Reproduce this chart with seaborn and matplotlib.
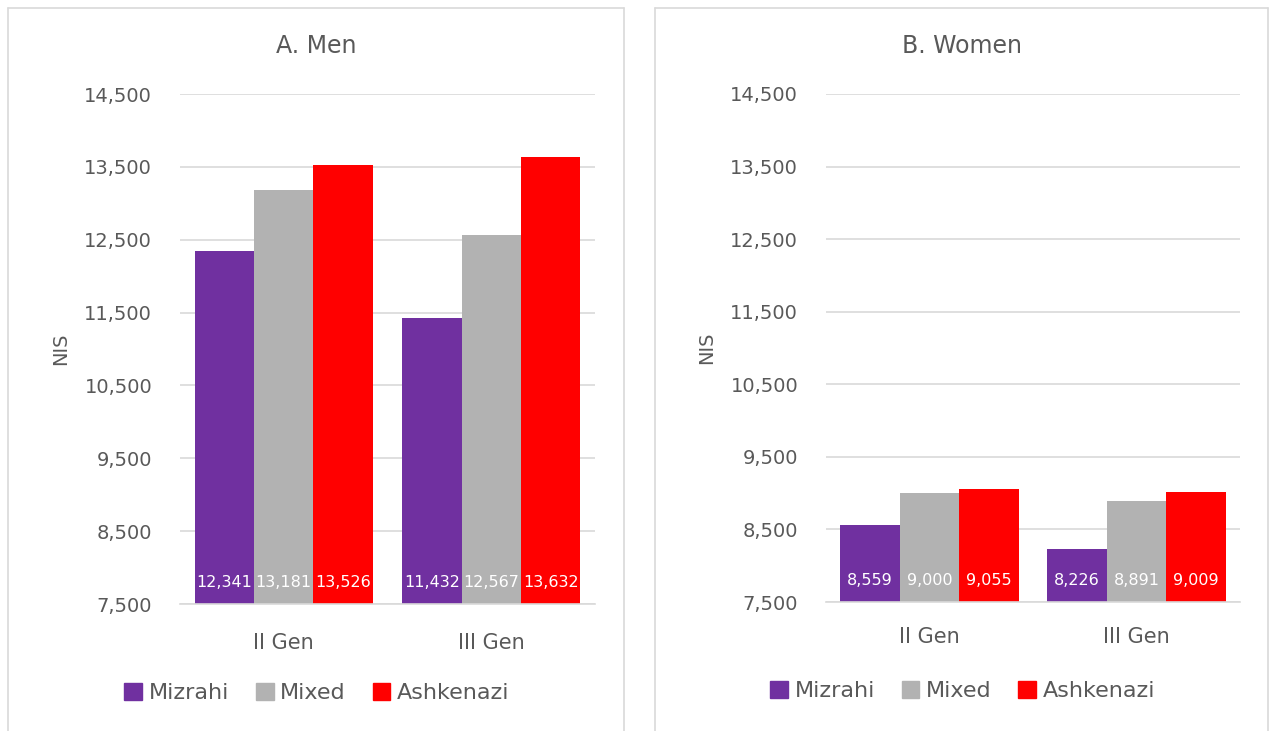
import matplotlib
matplotlib.use("Agg")
import matplotlib.pyplot as plt
import matplotlib.ticker as mticker
from matplotlib.lines import Line2D
import pandas as pd
import seaborn as sns

generations = ["II Gen", "III Gen"]
groups = ["Mizrahi", "Mixed", "Ashkenazi"]
men_mizrahi = [12341, 11432]
men_mixed = [13181, 12567]
men_ashkenazi = [13526, 13632]
women_mizrahi = [8559, 8226]
women_mixed = [9000, 8891]
women_ashkenazi = [9055, 9009]
y_ticks = [7500, 8500, 9500, 10500, 11500, 12500, 13500, 14500]

colors = {"Mizrahi": "#7030A0", "Mixed": "#B2B2B2", "Ashkenazi": "#FF0000"}
text_col = "#595959"
grid_col = "#D9D9D9"


def make_df(miz, mix, ash):
    rows = []
    for name, vals in zip(groups, [miz, mix, ash]):
        for g, v in zip(generations, vals):
            rows.append({"gen": g, "group": name, "value": v})
    return pd.DataFrame(rows)


sns.set_theme(style="white")
plt.rcParams["font.family"] = ["DejaVu Sans"]

fig = plt.figure(figsize=(12.7, 7.31), dpi=100)

# panel frames
for x0, x1 in [(8, 624), (655, 1268)]:
    fx0, fx1 = x0 / 1270, x1 / 1270
    fy = 1 - 8 / 731
    fig.add_artist(Line2D([fx0, fx1], [fy, fy], color=grid_col, lw=1.2, transform=fig.transFigure))
    fig.add_artist(Line2D([fx0, fx0], [0, fy], color=grid_col, lw=1.2, transform=fig.transFigure))
    fig.add_artist(Line2D([fx1, fx1], [0, fy], color=grid_col, lw=1.2, transform=fig.transFigure))

panels = [
    ("A. Men", make_df(men_mizrahi, men_mixed, men_ashkenazi), [180 / 1270, 1 - 604 / 731, 415 / 1270, 510 / 731], 316, 21),
    ("B. Women", make_df(women_mizrahi, women_mixed, women_ashkenazi), [826 / 1270, 1 - 602 / 731, 414 / 1270, 508 / 731], 962, 18),
]

for title, df, pos, tx, xpad in panels:
    ax = fig.add_axes(pos)
    sns.barplot(data=df, x="gen", y="value", hue="group", hue_order=groups,
                palette=colors, width=0.86, gap=0, saturation=1, ax=ax,
                errorbar=None, legend=False, linewidth=0)
    ax.set_ylim(7500, 14500)
    ax.set_yticks(y_ticks)
    ax.yaxis.set_major_formatter(mticker.StrMethodFormatter("{x:,.0f}"))
    ax.yaxis.grid(True, color=grid_col, lw=1.2)
    ax.set_axisbelow(True)
    for s in ["top", "right", "left"]:
        ax.spines[s].set_visible(False)
    ax.spines["bottom"].set_color(grid_col)
    ax.spines["bottom"].set_linewidth(1.2)
    ax.tick_params(axis="y", length=0, pad=20, labelsize=14, labelcolor=text_col)
    ax.tick_params(axis="x", length=0, pad=xpad, labelsize=15, labelcolor=text_col)
    ax.set_xlabel("")
    ax.set_ylabel("NIS", fontsize=14, color=text_col, labelpad=10)
    for bar in ax.patches:
        h = bar.get_height()
        if h <= 0:
            continue
        ax.text(bar.get_x() + bar.get_width() / 2, 7800, f"{h:,.0f}",
                ha="center", va="center", color="white", fontsize=11.5)
    fig.text(tx / 1270, 1 - 46 / 731, title, ha="center", va="center",
             fontsize=17, color=text_col)
    handles = [plt.Rectangle((0, 0), 1, 1, color=colors[g]) for g in groups]
    ax.legend(handles, groups, loc="center", bbox_to_anchor=(0.33, -0.175),
              ncol=3, frameon=False, fontsize=16, labelcolor=text_col,
              handlelength=0.8, handleheight=0.8, handletextpad=0.3,
              columnspacing=1.2)

fig.savefig("out.png", dpi=100)
